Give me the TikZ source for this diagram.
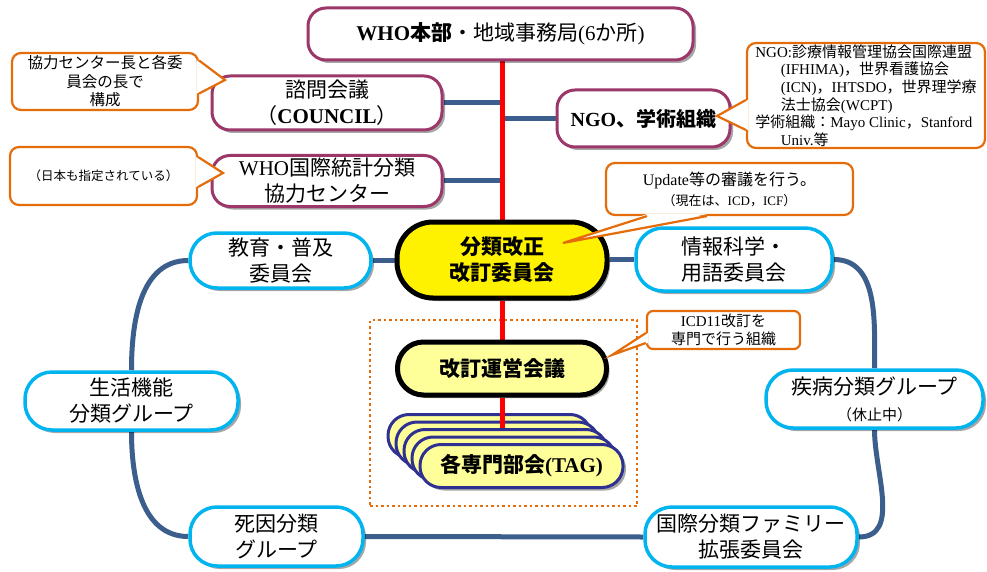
\documentclass[tikz,border=0pt]{standalone}
\usepackage{fontspec}
\setmainfont{Noto Sans CJK JP}
\newfontfamily\serif{Liberation Serif}
\newcommand\lat[1]{{\serif #1}}
\usetikzlibrary{shadows,calc,backgrounds}
\definecolor{plum}{RGB}{155,55,105}
\definecolor{skyb}{RGB}{0,180,240}
\definecolor{conn}{RGB}{59,94,140}
\definecolor{callor}{RGB}{228,108,10}
\definecolor{navyb}{RGB}{46,49,146}
\definecolor{lyel}{RGB}{255,255,153}
\tikzset{
  shad/.style={drop shadow={shadow xshift=3pt,shadow yshift=-3pt,opacity=0.35,fill=black}},
  basebox/.style={inner sep=0pt, align=center, font=\fontsize{21}{26}\selectfont, shad},
  purplebox/.style={basebox, draw=plum, line width=3pt, fill=white, rounded corners=18pt},
  cyanbox/.style={basebox, draw=skyb, line width=3.5pt, fill=white, rounded corners=27pt},
  yelbox/.style={basebox, draw=black, line width=5pt, fill=yellow, rounded corners=36pt, font=\fontsize{21}{26}\selectfont\bfseries},
  lyelbox/.style={basebox, draw=black, line width=5pt, fill=lyel, rounded corners=26pt, font=\fontsize{21}{26}\selectfont\bfseries},
  tagbox/.style={basebox, draw=navyb, line width=3pt, fill=lyel, rounded corners=21pt, minimum width=203pt, minimum height=43pt, font=\fontsize{21}{26}\selectfont\bfseries},
  callbox/.style={draw=callor, line width=2.2pt, fill=white, rounded corners=9pt, inner sep=0pt, align=center},
  callline/.style={draw=callor, line width=2.2pt},
  dotbox/.style={draw=callor, line width=2.5pt, dash pattern=on 2.5pt off 3pt, inner sep=0pt},
  conline/.style={draw=conn, line width=5pt},
  redline/.style={draw=red, line width=5pt},
}
\begin{document}
\begin{tikzpicture}[x=1pt,y=-1pt]
\useasboundingbox (0,0) rectangle (987,572);

% main nodes
\node[purplebox, minimum width=385pt, minimum height=52pt] (who) at (500.5,34)
  {\lat{\bfseries WHO}{\bfseries 本部}・地域事務局\lat{(6}か所\lat{)}};
\node[purplebox, minimum width=230pt, minimum height=54pt] (council) at (327,103)
  {諮問会議\\（\lat{\bfseries COUNCIL}）};
\node[purplebox, minimum width=230pt, minimum height=51pt] (cc) at (327,181)
  {\lat{WHO}国際統計分類\\協力センター};
\node[purplebox, minimum width=173pt, minimum height=57pt, font=\fontsize{20}{24}\selectfont] (ngo) at (643.5,118.5)
  {\lat{\bfseries NGO}{\bfseries 、学術組織}};

\node[yelbox, minimum width=210pt, minimum height=76pt] (main) at (502,260)
  {分類改正\\改訂委員会};
\node[cyanbox, minimum width=181pt, minimum height=55pt] (edu) at (280.5,260.5)
  {教育・普及\\委員会};
\node[cyanbox, minimum width=196pt, minimum height=63pt] (info) at (734,259.5)
  {情報科学・\\用語委員会};
\node[cyanbox, minimum width=213pt, minimum height=58pt] (life) at (131.5,401)
  {生活機能\\分類グループ};
\node[cyanbox, minimum width=217pt, minimum height=58pt] (disease) at (874.5,399)
  {疾病分類グループ\\{\fontsize{15}{18}\selectfont （休止中）}};
\node[cyanbox, minimum width=173pt, minimum height=59pt] (death) at (276.5,536.5)
  {死因分類\\グループ};
\node[cyanbox, minimum width=212pt, minimum height=60pt] (family) at (751,537)
  {国際分類ファミリー\\拡張委員会};

\node[lyelbox, minimum width=209pt, minimum height=53pt] (kaitei) at (502,368.5)
  {改訂運営会議};

% TAG stack
\node[tagbox] (tag1) at (489.5,436) {};
\node[tagbox] (tag2) at (497.5,443.5) {};
\coordinate (tagjoin) at ($(kaitei.south)+(0,33)$);
\draw[redline] (kaitei.south) -- (tagjoin);
\node[tagbox] (tag3) at (505.5,451) {};
\node[tagbox] (tag4) at (513.5,458.5) {};
\node[tagbox] (tag5) at (521.5,466) {各専門部会\lat{\bfseries (TAG)}};

% connectors on background
\begin{scope}[on background layer]
  \node[dotbox, minimum width=267pt, minimum height=186pt] (grp) at (503.5,413) {};
  \coordinate (sp1) at (main.north |- council.east);
  \coordinate (sp2) at (main.north |- cc.east);
  \coordinate (sp3) at (main.north |- ngo.west);
  \draw[conline] (council.east) -- (sp1);
  \draw[conline] (cc.east) -- (sp2);
  \draw[conline] (ngo.west) -- (sp3);
  \draw[conline] (edu.east) -- (edu.east -| main.west);
  \draw[conline] (info.west) -- (info.west -| main.east);
  \draw[conline] (death.east) -- (family.west);
  \draw[conline] (edu.west) to[out=180,in=90] (life.north);
  \draw[conline] (life.south) to[out=-90,in=180] (death.west);
  \draw[conline] (info.east) to[out=0,in=90] (disease.north);
  \draw[conline] (disease.south) to[out=-90,in=0] (family.east);
  \draw[redline] (main.north |- who.south) -- (main.north);
  \draw[redline] (main.south) -- (kaitei.north);
\end{scope}

% callouts
\node[callbox, minimum width=186pt, minimum height=57pt, font=\fontsize{15.5}{18.5}\selectfont] (c1) at (105,81.5)
  {協力センター長と各委\\員会の長で\\構成};
\coordinate (t1) at (225,80);
\fill[white] ($(c1.east)+(-2,-21)$) -- (t1) -- ($(c1.east)+(-2,12)$) -- cycle;
\draw[callline] ($(c1.east)+(0,-21)$) -- (t1) -- ($(c1.east)+(0,12)$);

\node[callbox, minimum width=187pt, minimum height=58pt, font=\fontsize{12.5}{15}\selectfont] (c2) at (103.5,176)
  {（日本も指定されている）};
\coordinate (t2) at (223,173);
\fill[white] ($(c2.east)+(-2,-19)$) -- (t2) -- ($(c2.east)+(-2,11)$) -- cycle;
\draw[callline] ($(c2.east)+(0,-19)$) -- (t2) -- ($(c2.east)+(0,11)$);

\node[callbox, minimum width=238pt, minimum height=105pt, align=left, font=\fontsize{15}{17.6}\selectfont] (c3) at (866,95.5)
  {\lat{NGO:}診療情報管理協会国際連盟\\
   \hspace*{1.7em}\lat{(IFHIMA)}，世界看護協会\\
   \hspace*{1.7em}\lat{(ICN)}，\lat{IHTSDO}，世界理学療\\
   \hspace*{1.7em}法士協会\lat{(WCPT)}\\
   学術組織：\lat{Mayo Clinic}，\lat{Stanford}\\
   \hspace*{1.7em}\lat{Univ.}等};
\coordinate (t3) at (717,116);
\fill[white] ($(c3.west)+(2,4.5)$) -- (t3) -- ($(c3.west)+(2,34.5)$) -- cycle;
\draw[callline] ($(c3.west)+(0,4.5)$) -- (t3) -- ($(c3.west)+(0,34.5)$);

\node[callbox, minimum width=247pt, minimum height=52pt, font=\fontsize{16}{20}\selectfont] (c4) at (729.5,189)
  {\lat{Update}等の審議を行う。\\{\fontsize{13}{15}\selectfont （現在は、\lat{ICD}，\lat{ICF}）}};
\coordinate (t4) at (563,243);
\fill[white] ($(c4.south)+(-82.5,-2)$) -- (t4) -- ($(c4.south)+(-22.5,-2)$) -- cycle;
\draw[callline] ($(c4.south)+(-82.5,0)$) -- (t4) -- ($(c4.south)+(-22.5,0)$);

\node[callbox, rounded corners=6pt, minimum width=153pt, minimum height=38pt, font=\fontsize{15}{18.5}\selectfont] (c5) at (723.5,330)
  {\lat{ICD11}改訂を\\専門で行う組織};
\coordinate (t5) at (612,355);
\fill[white] ($(c5.west)+(2,3)$) -- (t5) -- ($(c5.west)+(2,13)$) -- cycle;
\draw[callline] ($(c5.west)+(0,3)$) -- (t5) -- ($(c5.west)+(0,13)$);
\end{tikzpicture}
\end{document}
